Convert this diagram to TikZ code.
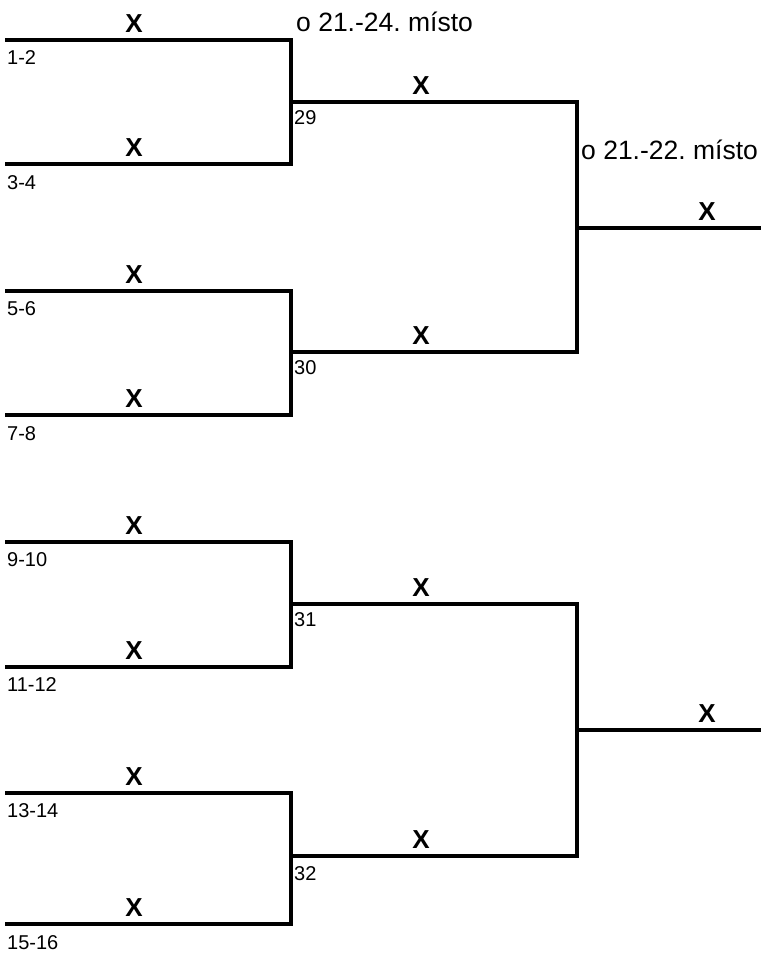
\documentclass[tikz,border=0pt]{standalone}
\usepackage{fontspec}
\setmainfont{Liberation Sans}
\frenchspacing
\begin{document}
\begin{tikzpicture}[x=1pt,y=-1pt,
  bracket/.style={line width=3.2pt,line join=miter,line cap=butt},
  seed/.style={anchor=base west,inner sep=0pt,font=\fontsize{20}{24}\selectfont},
  winner/.style={anchor=base,inner sep=0pt,font=\fontsize{26}{30}\selectfont\bfseries},
  place/.style={anchor=base west,inner sep=0pt,font=\fontsize{26.5}{30}\selectfont}]
\useasboundingbox (0,0) rectangle (761,953);
% round 1 end points
\foreach \i/\y in {1/40,2/164,3/291,4/415,5/542,6/667,7/793,8/924}{
  \coordinate (a\i) at (5,\y);
  \coordinate (b\i) at (291,\y);
}
% round 2
\foreach \j/\y in {1/102,2/352,3/604,4/856}{
  \coordinate (m\j) at (291,\y);
  \coordinate (c\j) at (577,\y);
}
% round 3
\foreach \k/\y in {1/228,2/730}{
  \coordinate (n\k) at (577,\y);
  \coordinate (e\k) at (761,\y);
}
\draw[bracket] (a1) -- (b1) -- (b2) -- (a2);
\draw[bracket] (a3) -- (b3) -- (b4) -- (a4);
\draw[bracket] (a5) -- (b5) -- (b6) -- (a6);
\draw[bracket] (a7) -- (b7) -- (b8) -- (a8);
\draw[bracket] (m1) -- (c1) -- (c2) -- (m2);
\draw[bracket] (m3) -- (c3) -- (c4) -- (m4);
\draw[bracket] (n1) -- (e1);
\draw[bracket] (n2) -- (e2);
% seed labels
\node[seed] (s1) at (7,64) {1-2};
\node[seed] (s2) at (7,189) {3-4};
\node[seed] (s3) at (7,315) {5-6};
\node[seed] (s4) at (7,440) {7-8};
\node[seed] (s5) at (7,566) {9-10};
\node[seed] (s6) at (7,691) {11-12};
\node[seed] (s7) at (7,817) {13-14};
\node[seed] (s8) at (7,949) {15-16};
\node[seed] (g29) at (294,124) {29};
\node[seed] (g30) at (294,374) {30};
\node[seed] (g31) at (294,626) {31};
\node[seed] (g32) at (294,880) {32};
% winners
\foreach \x/\y [count=\n] in {134/32,134/156,134/283,134/407,134/534,134/659,134/785,134/916,
  421/94,421/344,421/596,421/848,707/220,707/722}{
  \node[winner] (x\n) at (\x,\y) {X};
}
% places
\node[place] (p1) at (296,31) {o 21.-24. místo};
\node[place] (p2) at (581,159) {o 21.-22. místo};
\end{tikzpicture}
\end{document}
